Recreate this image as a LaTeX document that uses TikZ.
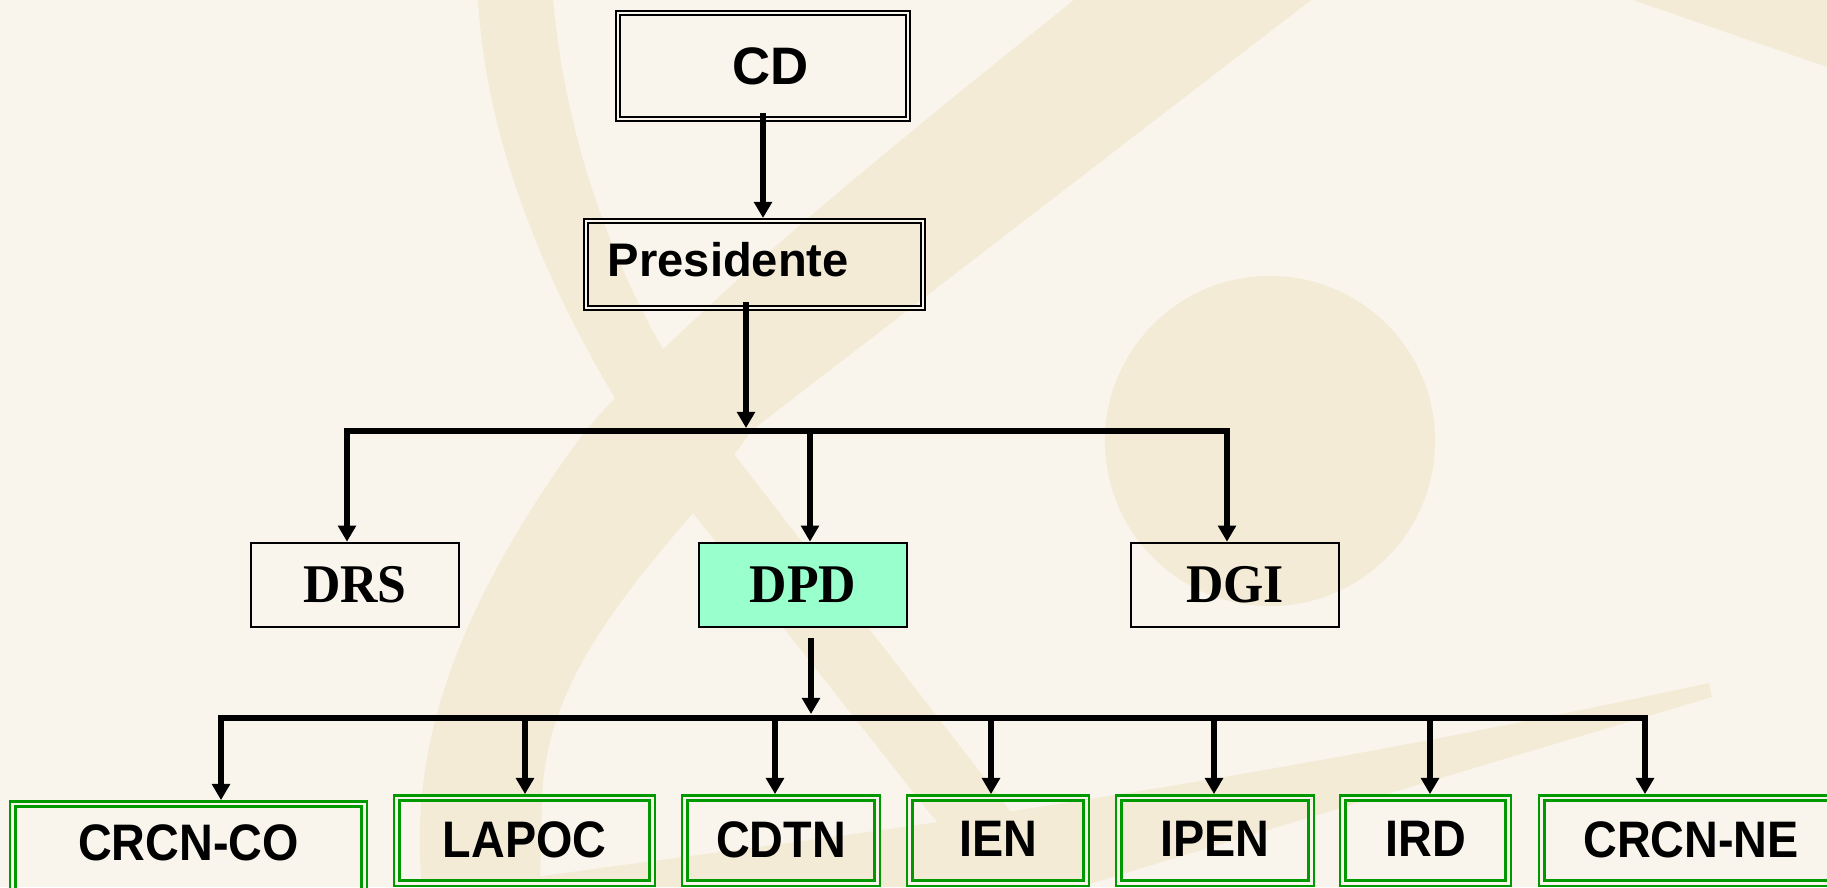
\documentclass[tikz,border=0pt]{standalone}
\usepackage{fontspec}
\setmainfont{Liberation Serif}
\newfontfamily\orgsans{Liberation Sans}
\newfontfamily\orgnarrow[FakeStretch=0.91]{Liberation Sans}
\newfontfamily\orgserif[FakeStretch=0.95]{Liberation Serif}
\usetikzlibrary{positioning,calc,arrows.meta}

\definecolor{paper}{HTML}{F9F5ED}
\definecolor{swirl}{HTML}{F3EBD6}
\definecolor{mint}{HTML}{99FFCC}
\definecolor{unitgreen}{HTML}{009900}

\tikzset{
  topbox/.style={draw=black, line width=0.5pt, double=paper, double distance=0.7pt,
    outer sep=0.85pt, inner sep=0pt},
  dirbox/.style={draw=black, line width=0.75pt, outer sep=0.37pt, inner sep=0pt,
    minimum width=2.08cm, minimum height=0.84cm,
    font=\orgserif\bfseries\fontsize{15.5pt}{18pt}\selectfont},
  unitbox/.style={draw=unitgreen, line width=0.7pt, double=paper, double distance=0.85pt,
    outer sep=1.1pt, inner sep=0pt, minimum height=0.85cm, text depth=0.8pt,
    font=\orgnarrow\bfseries\fontsize{14.6pt}{17pt}\selectfont},
  conn/.style={line width=1.45pt, -{Triangle[length=4.6pt,width=5pt]}},
  bus/.style={line width=1.45pt, line cap=rect},
}

\begin{document}
\begin{tikzpicture}[x=0.01cm, y=-0.01cm]
    \useasboundingbox (0,0) rectangle (1827,887);
    \clip (0,0) rectangle (1827,887);

    % Background and watermark
    \fill[paper] (0,0) rectangle (1827,887);
    \fill[swirl] (1270,441) circle[radius=1.65cm];
    \fill[swirl] (1074,0) -- (1311,0) -- (752,430) -- (693,513)
        .. controls (600,620) and (545,700) .. (542,800) -- (540,887) -- (422,887)
        .. controls (412,780) and (430,640) .. (586,430)
        .. controls (700,300) and (900,140) .. (1074,0) -- cycle;
    \fill[swirl] (478,0) -- (553,0) .. controls (570,180) and (640,340) .. (744,467)
        -- (1014,816) -- (1070,887) -- (1000,887) -- (932,816) -- (693,513)
        .. controls (600,390) and (490,200) .. (478,0) -- cycle;
    \fill[swirl] (1709,683) -- (1712,697) .. controls (1400,790) and (1200,850) .. (1080,887)
        -- (470,887) .. controls (700,850) and (1100,815) .. (1709,683) -- cycle;
    \fill[swirl] (1633,0) .. controls (1720,30) .. (1827,67) -- (1827,0) -- cycle;

    % Top level
    \node[topbox, minimum width=2.9cm, minimum height=1.06cm,
          font=\orgsans\bfseries\fontsize{15pt}{18pt}\selectfont] (cd) at (763,66) {\kern4.5pt CD};
    \node[topbox, minimum width=3.37cm, minimum height=0.87cm, text width=2.93cm, align=left,
          text depth=3pt,
          font=\orgsans\bfseries\fontsize{13.4pt}{16pt}\selectfont] (pres) at (754.5,264.5) {Presidente};

    % Directorates
    \node[dirbox] (drs) at (355,585) {DRS};
    \node[dirbox, fill=mint] (dpd) at (803,585) {DPD};
    \node[dirbox] (dgi) at (1235,585) {DGI};

    % Units
    \foreach \name/\txt/\x/\w in {lapoc/LAPOC/524.5/2.55, cdtn/CDTN/781/1.92, ien/IEN/998/1.76,
                                  ipen/IPEN/1215/1.92, ird/IRD/1425.5/1.65, crcnne/CRCN-NE/1691/2.98}
        \node[unitbox, minimum width=\w cm] (\name) at (\x,840.5) {\txt};
    \node[unitbox, minimum width=3.51cm, minimum height=0.89cm, text depth=3.5pt] (crcnco) at (188.5,848.5) {CRCN-CO};

    % CD to Presidente
    \coordinate (cdout) at ($(cd.south)+(0,-9)$);
    \draw[conn] (cdout) -- (cdout |- pres.north);

    % Presidente to directorates
    \coordinate (presout) at (746,302);
    \coordinate (j1) at (746,428);
    \draw[conn] (presout) -- (j1);
    \foreach \b/\x/\tgt in {d1/347/drs, d2/810/dpd, d3/1227/dgi} {
        \coordinate (\b) at (\x,431);
        \draw[conn] (\b) -- (\b |- \tgt.north);
    }
    \draw[bus] (d1) -- (d3);

    % DPD to units
    \coordinate (dpdout) at (811,638);
    \coordinate (j2) at (811,714);
    \draw[conn] (dpdout) -- (j2);
    \foreach \b/\x/\tgt in {u1/221/crcnco, u2/525/lapoc, u3/775/cdtn, u4/991/ien,
                            u5/1214/ipen, u6/1430/ird, u7/1645/crcnne} {
        \coordinate (\b) at (\x,718);
        \draw[conn] (\b) -- (\b |- \tgt.north);
    }
    \draw[bus, line width=1.9pt] (u1) -- (u7);
\end{tikzpicture}
\end{document}
